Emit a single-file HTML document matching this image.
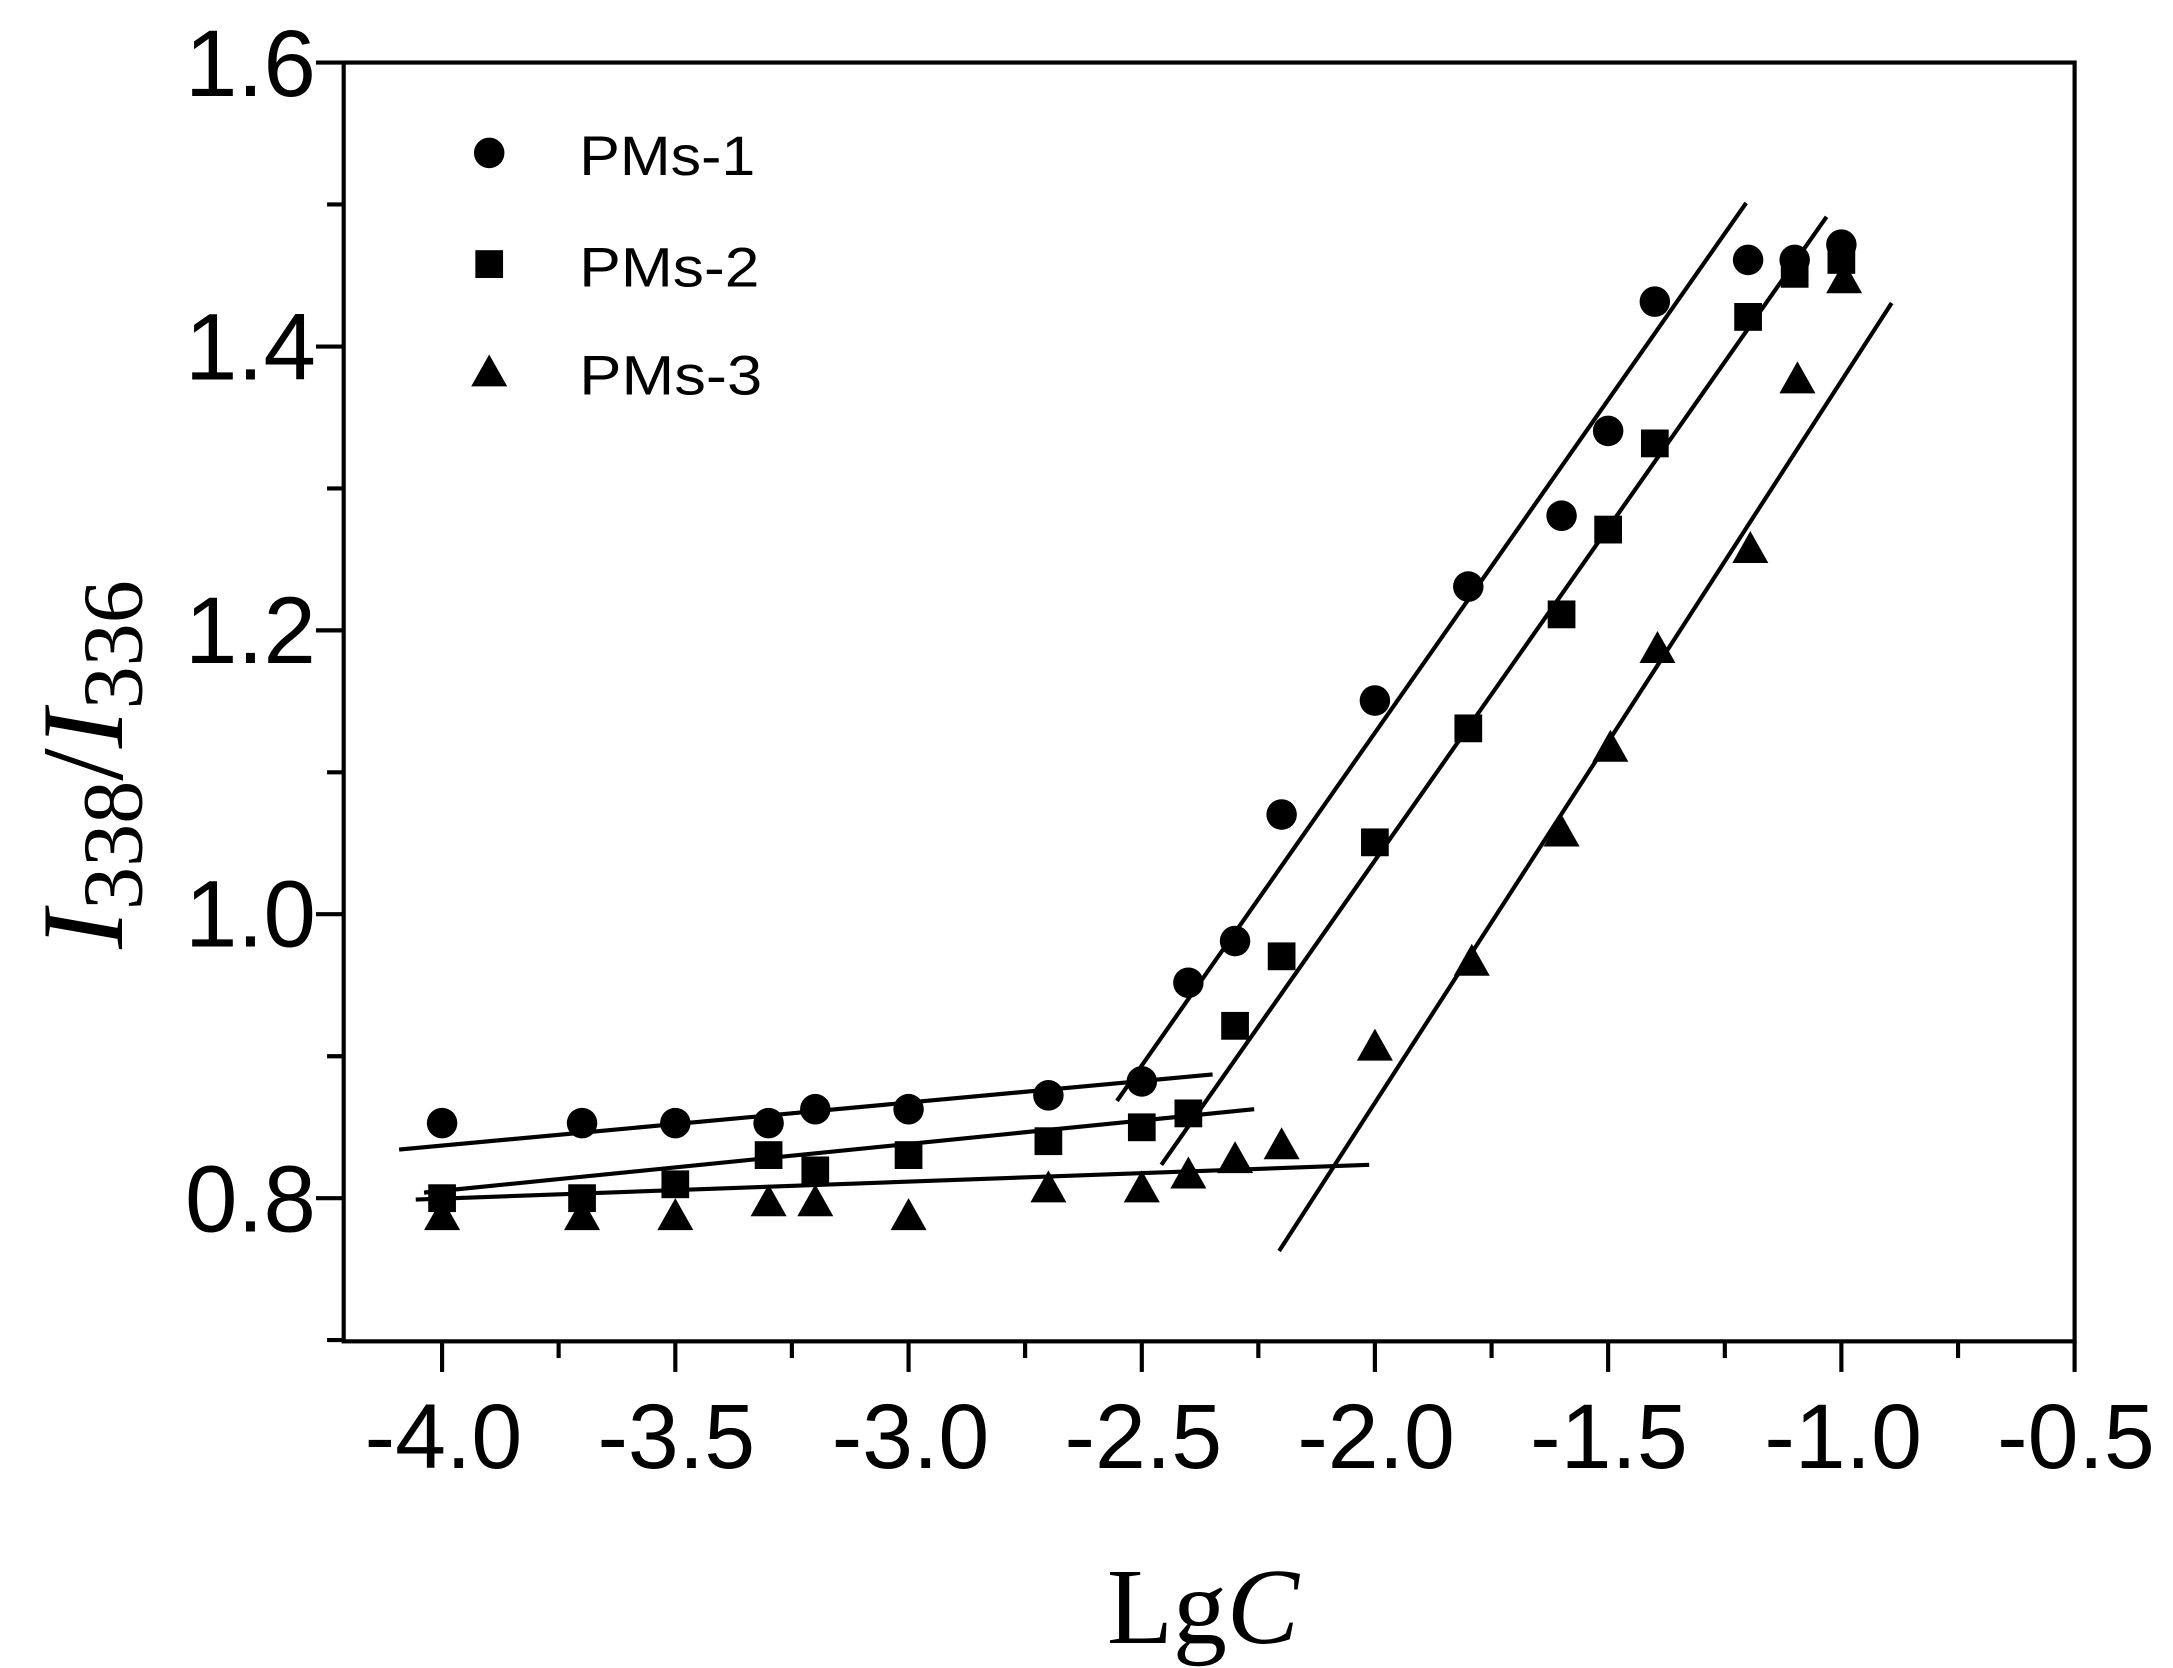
<!DOCTYPE html>
<html><head><meta charset="utf-8"><style>
html,body{margin:0;padding:0;background:#fff;}
svg{display:block;}
</style></head><body>
<svg width="2173" height="1668" viewBox="0 0 1568 1200" preserveAspectRatio="none" xmlns="http://www.w3.org/2000/svg" xmlns:xlink="http://www.w3.org/1999/xlink">
<defs>
<circle id="c" cx="0" cy="0" r="11" fill="#000"/>
<rect id="s" x="-10" y="-10" width="20" height="20" fill="#000"/>
<polygon id="t" points="0,-14 13,9 -13,9" fill="#000"/>
</defs>
<rect width="1568" height="1200" fill="#fff"/>
<rect x="248" y="45" width="1249" height="920" fill="none" stroke="#000" stroke-width="3"/>
<g stroke="#000" stroke-width="3">
<line x1="319" y1="965" x2="319" y2="987"/>
<line x1="403.1" y1="965" x2="403.1" y2="977"/>
<line x1="487.3" y1="965" x2="487.3" y2="987"/>
<line x1="571.4" y1="965" x2="571.4" y2="977"/>
<line x1="655.6" y1="965" x2="655.6" y2="987"/>
<line x1="739.7" y1="965" x2="739.7" y2="977"/>
<line x1="823.9" y1="965" x2="823.9" y2="987"/>
<line x1="908" y1="965" x2="908" y2="977"/>
<line x1="992.1" y1="965" x2="992.1" y2="987"/>
<line x1="1076.3" y1="965" x2="1076.3" y2="977"/>
<line x1="1160.4" y1="965" x2="1160.4" y2="987"/>
<line x1="1244.6" y1="965" x2="1244.6" y2="977"/>
<line x1="1328.7" y1="965" x2="1328.7" y2="987"/>
<line x1="1412.9" y1="965" x2="1412.9" y2="977"/>
<line x1="1497" y1="965" x2="1497" y2="987"/>
<line x1="236" y1="964.1" x2="248" y2="964.1"/>
<line x1="228" y1="862" x2="248" y2="862"/>
<line x1="236" y1="759.9" x2="248" y2="759.9"/>
<line x1="228" y1="657.7" x2="248" y2="657.7"/>
<line x1="236" y1="555.6" x2="248" y2="555.6"/>
<line x1="228" y1="453.5" x2="248" y2="453.5"/>
<line x1="236" y1="351.4" x2="248" y2="351.4"/>
<line x1="228" y1="249.3" x2="248" y2="249.3"/>
<line x1="236" y1="147.1" x2="248" y2="147.1"/>
<line x1="228" y1="45" x2="248" y2="45"/>
</g>
<g font-family="Liberation Sans, Arial, sans-serif" font-size="66" fill="#000" text-anchor="middle">
<text x="320" y="1056">-4.0</text>
<text x="488" y="1056">-3.5</text>
<text x="657" y="1056">-3.0</text>
<text x="825" y="1056">-2.5</text>
<text x="993" y="1056">-2.0</text>
<text x="1161" y="1056">-1.5</text>
<text x="1330" y="1056">-1.0</text>
<text x="1498" y="1056">-0.5</text>
</g>
<g font-family="Liberation Sans, Arial, sans-serif" font-size="68" fill="#000" text-anchor="end">
<text x="228" y="886">0.8</text>
<text x="228" y="681">1.0</text>
<text x="228" y="477">1.2</text>
<text x="228" y="273">1.4</text>
<text x="228" y="69">1.6</text>
</g>
<g stroke="#000" stroke-width="3">
<line x1="288" y1="827" x2="875" y2="773"/>
<line x1="806" y1="792" x2="1260" y2="146"/>
<line x1="306" y1="858" x2="905" y2="798"/>
<line x1="838" y1="838" x2="1318" y2="156"/>
<line x1="300" y1="863" x2="988" y2="838"/>
<line x1="923" y1="900" x2="1365" y2="218"/>
</g>
<g>
<use xlink:href="#c" x="319" y="808"/>
<use xlink:href="#c" x="420" y="808"/>
<use xlink:href="#c" x="487.3" y="808"/>
<use xlink:href="#c" x="554.6" y="808"/>
<use xlink:href="#c" x="588.3" y="798"/>
<use xlink:href="#c" x="655.6" y="798"/>
<use xlink:href="#c" x="756.5" y="788"/>
<use xlink:href="#c" x="823.9" y="778"/>
<use xlink:href="#c" x="857.5" y="707"/>
<use xlink:href="#c" x="891.2" y="677"/>
<use xlink:href="#c" x="924.8" y="586"/>
<use xlink:href="#c" x="992.1" y="504"/>
<use xlink:href="#c" x="1059.5" y="422"/>
<use xlink:href="#c" x="1126.8" y="371"/>
<use xlink:href="#c" x="1160.4" y="310"/>
<use xlink:href="#c" x="1194.1" y="217"/>
<use xlink:href="#c" x="1261.4" y="187"/>
<use xlink:href="#c" x="1295" y="187"/>
<use xlink:href="#c" x="1328.7" y="176"/>

<use xlink:href="#s" x="319" y="862"/>
<use xlink:href="#s" x="420" y="862"/>
<use xlink:href="#s" x="487.3" y="852"/>
<use xlink:href="#s" x="554.6" y="831"/>
<use xlink:href="#s" x="588.3" y="842"/>
<use xlink:href="#s" x="655.6" y="831"/>
<use xlink:href="#s" x="756.5" y="821"/>
<use xlink:href="#s" x="823.9" y="811"/>
<use xlink:href="#s" x="857.5" y="801"/>
<use xlink:href="#s" x="891.2" y="738"/>
<use xlink:href="#s" x="924.8" y="688"/>
<use xlink:href="#s" x="992.1" y="606"/>
<use xlink:href="#s" x="1059.5" y="524"/>
<use xlink:href="#s" x="1126.8" y="442"/>
<use xlink:href="#s" x="1160.4" y="381"/>
<use xlink:href="#s" x="1194.1" y="319"/>
<use xlink:href="#s" x="1261.4" y="228"/>
<use xlink:href="#s" x="1295" y="197"/>
<use xlink:href="#s" x="1328.7" y="187"/>

<use xlink:href="#t" x="319" y="876"/>
<use xlink:href="#t" x="420" y="876"/>
<use xlink:href="#t" x="487.3" y="876"/>
<use xlink:href="#t" x="554.6" y="866"/>
<use xlink:href="#t" x="588.3" y="866"/>
<use xlink:href="#t" x="655.6" y="876"/>
<use xlink:href="#t" x="756.5" y="856"/>
<use xlink:href="#t" x="823.9" y="856"/>
<use xlink:href="#t" x="857.5" y="846"/>
<use xlink:href="#t" x="891.2" y="835"/>
<use xlink:href="#t" x="924.8" y="825"/>
<use xlink:href="#t" x="992.1" y="754"/>
<use xlink:href="#t" x="1062" y="693"/>
<use xlink:href="#t" x="1126.8" y="600"/>
<use xlink:href="#t" x="1162" y="539"/>
<use xlink:href="#t" x="1196" y="468"/>
<use xlink:href="#t" x="1263" y="396"/>
<use xlink:href="#t" x="1297" y="274"/>
<use xlink:href="#t" x="1330.7" y="202"/>
</g>
<use xlink:href="#c" x="353" y="110"/>
<use xlink:href="#s" x="353" y="190"/>
<use xlink:href="#t" x="353" y="269"/>
<g font-family="Liberation Sans, Arial, sans-serif" font-size="40" fill="#000">
<text x="418" y="126" textLength="127" lengthAdjust="spacingAndGlyphs">PMs-1</text>
<text x="418" y="206" textLength="130" lengthAdjust="spacingAndGlyphs">PMs-2</text>
<text x="418" y="284" textLength="132" lengthAdjust="spacingAndGlyphs">PMs-3</text>
</g>
<text x="868" y="1182" text-anchor="middle" font-family="Liberation Serif, serif" font-size="78">Lg<tspan font-style="italic">C</tspan></text>
<text transform="translate(88,550) rotate(-90)" text-anchor="middle" font-family="Liberation Serif, serif" font-size="84"><tspan font-style="italic">I</tspan><tspan font-size="62" dy="14">338</tspan><tspan dy="-14">/</tspan><tspan font-style="italic">I</tspan><tspan font-size="62" dy="14">336</tspan></text>
</svg>
</body></html>
